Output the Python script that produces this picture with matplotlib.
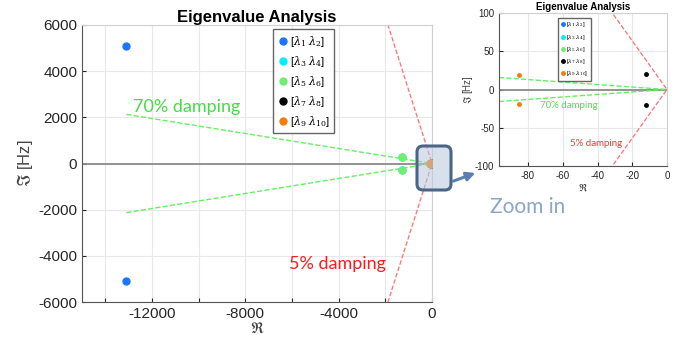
import numpy as np
import matplotlib.pyplot as plt
from matplotlib.patches import FancyBboxPatch

plt.rcParams['font.family'] = ['Liberation Sans', 'DejaVu Sans']
plt.rcParams['mathtext.fontset'] = 'dejavuserif'
plt.rcParams['axes.unicode_minus'] = False

# eigenvalues: real part [1/s], imaginary part [Hz]
labels = [r'[$\lambda_1$ $\lambda_2$]', r'[$\lambda_3$ $\lambda_4$]', r'[$\lambda_5$ $\lambda_6$]',
          r'[$\lambda_7$ $\lambda_8$]', r'[$\lambda_9$ $\lambda_{10}$]']
colors = ['#1a75ff', '#00f0ff', '#70ee70', '#000000', '#f57c0a']
re_vals = [-13100, -1300, -1300, -12, -85]
im_vals = [5100, 280, 280, 20, 19]

zeta_70 = 0.7
zeta_5 = 0.05

def damp_slope(z):
    return np.tan(np.arccos(z)) / (2 * np.pi)

fig = plt.figure(figsize=(6.92, 3.51), dpi=100)
ax = fig.add_axes([82/692, 49/351, 350/692, 277/351])
ax2 = fig.add_axes([499/692, 185/351, 168/692, 153/351])

def draw(a, xl, yl, xr_green, ms, fs, lfs, tfs, leg_xy, hl, ls):
    a.axhline(0, color='#8c8c8c', lw=1.3, zorder=1)
    xg = np.array([xr_green, 0])
    s7 = damp_slope(zeta_70)
    a.plot(xg, -s7*xg, '--', color='#66ee66', lw=1.0, zorder=2)
    a.plot(xg, s7*xg, '--', color='#66ee66', lw=1.0, zorder=2)
    s5 = damp_slope(zeta_5)
    xr = np.array([-yl/s5*1.05, 0])
    a.plot(xr, -s5*xr, '--', color='#ff7070', lw=0.9, zorder=2)
    a.plot(xr, s5*xr, '--', color='#ff7070', lw=0.9, zorder=2)
    for lab, c, x, y in zip(labels, colors, re_vals, im_vals):
        a.plot([x, x], [y, -y], 'o', color=c, ms=ms, ls='none', label=lab, zorder=3)
    a.set_xlim(xl, 0)
    a.set_ylim(-yl, yl)
    a.grid(True, color='#e8e8e8', lw=0.8)
    a.set_axisbelow(True)
    a.tick_params(direction='in', labelsize=tfs, colors='#262626', length=3)
    for sp in ['left', 'bottom']:
        a.spines[sp].set_color('#555555')
    for sp in ['top', 'right']:
        a.spines[sp].set_color('#d0d0d0')
    a.set_title('Eigenvalue Analysis', fontsize=fs, fontweight='bold', pad=2)
    a.legend(loc='upper left', bbox_to_anchor=leg_xy,
             fontsize=lfs, handletextpad=0.2, borderpad=0.4, labelspacing=ls,
             handlelength=hl, borderaxespad=0, fancybox=False, edgecolor='#666666',
             framealpha=1).set_zorder(10)

draw(ax, -15000, 6000, -13100, 5, 12, 8, 11, (0.546, 0.985), 0.9, 0.45)
ax.set_xticks(np.arange(-14000, 1, 2000))
ax.set_xticklabels(['' if v % 4000 else str(v) for v in range(-14000, 1, 2000)])
ax.set_yticks(np.arange(-6000, 6001, 2000))
ax.set_xlabel(r'$\Re$', fontsize=11, color='#444444', labelpad=0)
ax.set_ylabel(r'$\Im$ [Hz]', fontsize=12, color='#444444', labelpad=2)
ax.text(-12800, 2450, '70% damping', color='#44dd44', fontsize=13, family='Lato', va='center')
ax.text(-6130, -4350, '5% damping', color='#ff1a1a', fontsize=13, family='Lato', va='center')

draw(ax2, -96.7, 100, -96.7, 2.5, 7, 4.2, 7, (0.351, 0.967), 0.8, 0.55)
ax2.set_xticks([-80, -60, -40, -20, 0])
ax2.set_yticks([-100, -50, 0, 50, 100])
ax2.set_xlabel(r'$\Re$', fontsize=7, color='#444444', labelpad=0)
ax2.set_ylabel(r'$\Im$ [Hz]', fontsize=7, color='#444444', labelpad=0)
ax2.text(-73, -21, '70% damping', color='#55dd55', fontsize=7, family='Lato', va='center')
ax2.text(-56, -71, '5% damping', color='#ff3333', fontsize=7, family='Lato', va='center')

# zoom box and arrow
box = FancyBboxPatch((4.19, 1.63), 0.30, 0.40, boxstyle='round,pad=0.02,rounding_size=0.06',
                     transform=fig.dpi_scale_trans, facecolor='#b8c8dc', alpha=0.55,
                     edgecolor='none', zorder=5)
edge = FancyBboxPatch((4.19, 1.63), 0.30, 0.40, boxstyle='round,pad=0.02,rounding_size=0.06',
                      transform=fig.dpi_scale_trans, facecolor='none',
                      edgecolor='#4a6585', lw=2.2, zorder=6)
fig.patches.extend([box, edge])
fig.add_artist(plt.Annotation('', xy=(4.78, 1.79), xytext=(4.51, 1.69),
                              xycoords=fig.dpi_scale_trans, textcoords=fig.dpi_scale_trans,
                              arrowprops=dict(arrowstyle='-|>,head_length=0.5,head_width=0.25',
                                              color='#5b7fb0', lw=2.2)))
fig.text(490/692, 1 - 207/351, 'Zoom in', color='#8aa6c8', fontsize=15, family='Lato', va='center')

fig.savefig('out.png', dpi=100)
